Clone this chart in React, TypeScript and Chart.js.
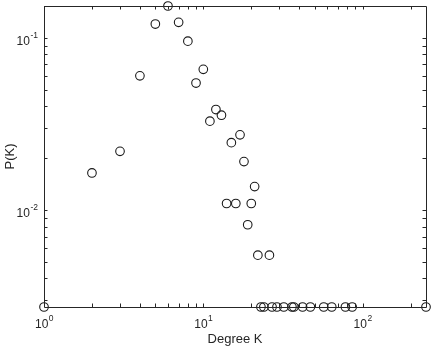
import React, { useEffect, useRef } from "react";
import { Chart, registerables } from "chart.js";

Chart.register(...registerables);

const degreeK: number[] = [
  1, 2, 3, 4, 5, 6, 7, 8, 9, 10, 11, 12, 13, 14, 15, 16, 17, 18, 19, 20, 21, 22, 26,
  23, 24, 27, 29, 32, 36, 37, 42, 47, 57, 64, 78, 86, 250,
];
const probK: number[] = [
  0.00273, 0.0164, 0.0219, 0.0601, 0.1202, 0.153, 0.123, 0.0956, 0.0546, 0.0656, 0.0328,
  0.0383, 0.0355, 0.0109, 0.0246, 0.0109, 0.0273, 0.0191, 0.0082, 0.0109, 0.01366,
  0.00546, 0.00546,
  0.00273, 0.00273, 0.00273, 0.00273, 0.00273, 0.00273, 0.00273, 0.00273, 0.00273,
  0.00273, 0.00273, 0.00273, 0.00273, 0.00273,
];

const xMin = 1;
const xMax = 250;
const yMin = 0.00273;
const yMax = 0.153;

const xMajor: number[] = [1, 10, 100];
const xMajorExp: string[] = ["0", "1", "2"];
const yMajor: number[] = [0.1, 0.01];
const yMajorExp: string[] = ["-1", "-2"];

const AXIS_COLOR = "#262626";
const FONT = "Liberation Sans, Arial, Helvetica, sans-serif";

function minorTicks(min: number, max: number): number[] {
  const out: number[] = [];
  for (let e = Math.floor(Math.log10(min)); e <= Math.ceil(Math.log10(max)); e++) {
    for (let m = 1; m <= 9; m++) {
      const v = m * Math.pow(10, e);
      if (v >= min * 0.999 && v <= max * 1.001) out.push(v);
    }
  }
  return out;
}

const axesPlugin = {
  id: "matlabAxes",
  afterDatasetsDraw(chart: any) {
    const { ctx, chartArea } = chart;
    const { left, right, top, bottom } = chartArea;
    const xs = chart.scales.x;
    const ys = chart.scales.y;
    ctx.save();
    ctx.strokeStyle = AXIS_COLOR;
    ctx.lineWidth = 1;
    ctx.beginPath();
    ctx.rect(Math.round(left) + 0.5, Math.round(top) + 0.5, Math.round(right - left), Math.round(bottom - top));
    ctx.stroke();
    const len = 3.5;
    ctx.beginPath();
    for (const v of minorTicks(xMin, xMax)) {
      const px = Math.round(xs.getPixelForValue(v)) + 0.5;
      ctx.moveTo(px, bottom);
      ctx.lineTo(px, bottom - len);
      ctx.moveTo(px, top);
      ctx.lineTo(px, top + len);
    }
    for (const v of minorTicks(yMin, yMax)) {
      const py = Math.round(ys.getPixelForValue(v)) + 0.5;
      ctx.moveTo(left, py);
      ctx.lineTo(left + len, py);
      ctx.moveTo(right, py);
      ctx.lineTo(right - len, py);
    }
    ctx.stroke();

    ctx.fillStyle = AXIS_COLOR;
    const baseFont = "12px " + FONT;
    const supFont = "8.5px " + FONT;
    xMajor.forEach((v, i) => {
      const px = xs.getPixelForValue(v);
      ctx.font = baseFont;
      const w1 = ctx.measureText("10").width;
      ctx.font = supFont;
      const w2 = ctx.measureText(xMajorExp[i]).width;
      const x0 = px - (w1 + w2) / 2;
      ctx.textBaseline = "alphabetic";
      ctx.textAlign = "left";
      ctx.font = baseFont;
      ctx.fillText("10", x0, bottom + 21);
      ctx.font = supFont;
      ctx.fillText(xMajorExp[i], x0 + w1 + 0.5, bottom + 14);
    });
    yMajor.forEach((v, i) => {
      const py = ys.getPixelForValue(v);
      ctx.font = supFont;
      const w2 = ctx.measureText(yMajorExp[i]).width;
      ctx.font = baseFont;
      const w1 = ctx.measureText("10").width;
      const xr = left - 6;
      ctx.textBaseline = "alphabetic";
      ctx.textAlign = "left";
      ctx.font = baseFont;
      ctx.fillText("10", xr - w2 - w1 - 0.5, py + 7);
      ctx.font = supFont;
      ctx.fillText(yMajorExp[i], xr - w2, py + 0.5);
    });
    ctx.restore();
  },
};

export default function App() {
  const canvasRef = useRef<HTMLCanvasElement | null>(null);

  useEffect(() => {
    if (!canvasRef.current) return;
    const points = degreeK.map((k, i) => ({ x: k, y: probK[i] }));
    const chart = new Chart(canvasRef.current, {
      type: "scatter",
      data: {
        datasets: [
          {
            data: points,
            pointStyle: "circle",
            pointRadius: 4.3,
            pointBorderWidth: 1.1,
            pointBackgroundColor: "rgba(0,0,0,0)",
            pointBorderColor: "#1a1a1a",
            clip: false,
          } as any,
        ],
      },
      options: {
        responsive: false,
        animation: false,
        maintainAspectRatio: false,
        layout: { padding: { top: 6, right: 6, left: 0, bottom: 0 } },
        plugins: { legend: { display: false }, tooltip: { enabled: false } },
        scales: {
          x: {
            type: "logarithmic",
            min: xMin,
            max: xMax,
            grid: { display: false, drawTicks: false },
            border: { display: false },
            ticks: { display: false },
            title: {
              display: true,
              text: "Degree K",
              color: AXIS_COLOR,
              font: { family: FONT, size: 13 },
              padding: { top: 0, bottom: 2 },
            },
            afterFit: (s: any) => {
              s.height = 42;
            },
          },
          y: {
            type: "logarithmic",
            min: yMin,
            max: yMax,
            grid: { display: false, drawTicks: false },
            border: { display: false },
            ticks: { display: false },
            title: {
              display: true,
              text: "P(K)",
              color: AXIS_COLOR,
              font: { family: FONT, size: 13 },
              padding: { top: 3, bottom: 0 },
            },
            afterFit: (s: any) => {
              s.width = 44;
            },
          },
        },
      },
      plugins: [axesPlugin],
    });
    return () => chart.destroy();
  }, []);

  return (
    <div style={{ position: "absolute", left: 0, top: 0, width: 432, height: 349, background: "#fff" }}>
      <canvas ref={canvasRef} width={432} height={349} style={{ width: 432, height: 349 }} />
    </div>
  );
}
